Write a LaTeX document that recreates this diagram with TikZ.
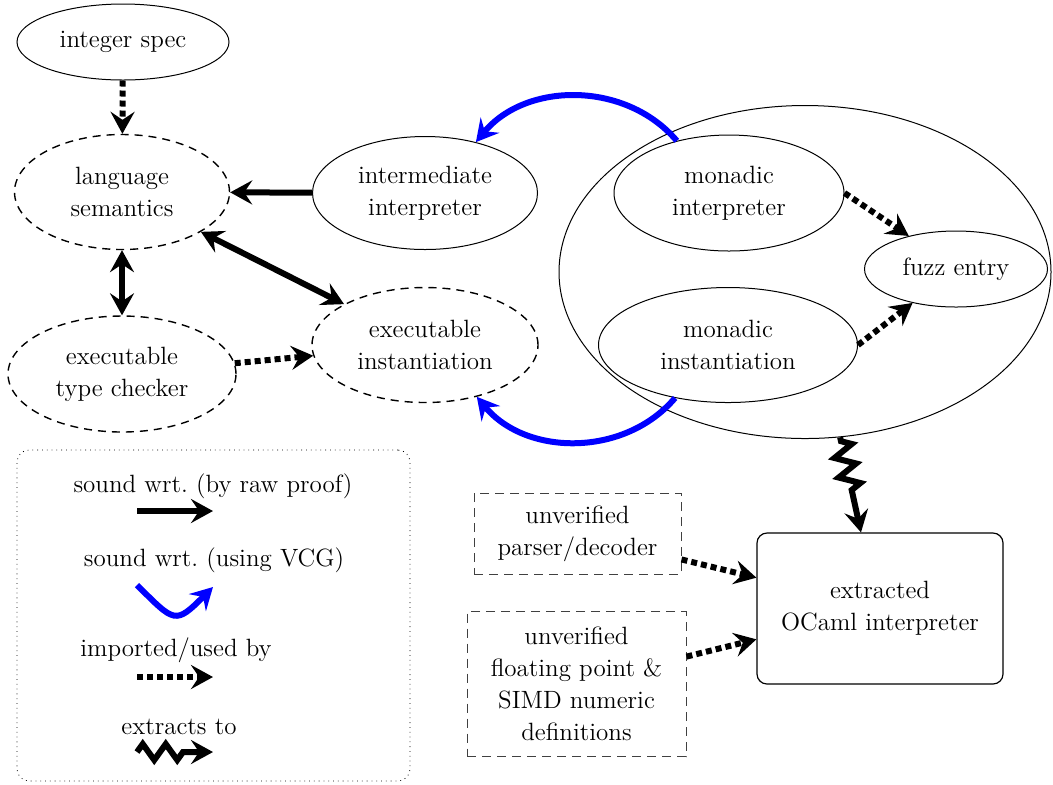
\documentclass[tikz,border=0pt]{standalone}
\usepackage{fontspec}
\usepackage{tikz}
\usetikzlibrary{shapes.geometric,arrows.meta,decorations.pathmorphing}

\begin{document}
\begin{tikzpicture}[x=0.5pt,y=0.5pt,
    font=\fontsize{12.5}{16}\selectfont,
    >={Stealth[length=11pt,width=12pt,inset=4pt]},
    comp/.style={draw,ellipse,align=center,inner sep=0pt,line width=0.5pt},
    exe/.style={comp,line width=0.7pt,dash pattern=on 4pt off 3pt},
    unver/.style={draw=black!75,dash pattern=on 4.5pt off 3pt,align=center,inner sep=0pt,line width=0.5pt},
    rawproof/.style={line width=3pt},
    vcgproof/.style={rawproof,blue},
    usedby/.style={rawproof,dash pattern=on 3pt off 2pt},
    extracts/.style={rawproof,decorate,decoration={zigzag,segment length=10pt,amplitude=5pt,pre length=2pt,post length=17pt}}]
  \useasboundingbox (0,0) rectangle (1053,-784);

  \node[comp,minimum width=106pt,minimum height=38pt] (intspec) at (123,-42) {integer spec};
  \node[exe,minimum width=107.5pt,minimum height=57.5pt] (langsem) at (122,-192) {language\\semantics};
  \node[comp,minimum width=112.5pt,minimum height=56.5pt] (interm) at (425,-193) {intermediate\\interpreter};
  \node[exe,minimum width=114pt,minimum height=58pt] (typechk) at (122,-374) {executable\\type checker};
  \node[exe,minimum width=113pt,minimum height=57.5pt] (execinst) at (425,-345) {executable\\instantiation};

  \node[comp,minimum width=246pt,minimum height=166.5pt] (monad) at (805,-272) {};
  \node[comp,minimum width=115pt,minimum height=58pt] (monint) at (729,-193) {monadic\\interpreter};
  \node[comp,minimum width=129.5pt,minimum height=57.5pt] (moninst) at (728,-345) {monadic\\instantiation};
  \node[comp,minimum width=91.5pt,minimum height=38pt] (fuzz) at (956,-269) {fuzz entry};

  \node[unver,minimum width=103.5pt,minimum height=40.5pt] (parser) at (577.5,-533.5) {unverified\\parser/decoder};
  \node[unver,minimum width=109.5pt,minimum height=72.5pt] (float) at (576.5,-684) {unverified\\floating point \&\\SIMD numeric\\definitions};
  \node[draw,rounded corners=5pt,line width=0.6pt,align=center,inner sep=0pt,
        minimum width=123pt,minimum height=75.5pt] (ocaml) at (880,-608.5) {extracted\\OCaml interpreter};

  \draw[usedby,->] (intspec) -- (langsem);
  \draw[rawproof,->] (interm) -- (langsem);
  \draw[rawproof,<->] (langsem) -- (typechk);
  \draw[rawproof,<->] (langsem) -- (execinst);
  \draw[usedby,->] (typechk) -- (execinst);
  \draw[vcgproof,->] (monint.135) to[bend right=50] (interm.45);
  \draw[vcgproof,->] (moninst.225) to[bend left=50] (execinst.-45);
  \draw[usedby,->] (monint.east) -- (fuzz.145);
  \draw[usedby,->] (moninst.east) -- (fuzz.218);
  \draw[extracts,->] (monad.282) -- ([xshift=-9.5pt]ocaml.north);
  \draw[usedby,->] (parser.-14) -- (ocaml.166);
  \draw[usedby,->] (float.14) -- (ocaml.194);

  % legend
  \node[draw,dotted,rounded corners=6pt,minimum width=196.5pt,minimum height=165.5pt] (legend) at (213.5,-615.5) {};
  \node (lraw) at (213,-486) {sound wrt.\ (by raw proof)};
  \node (lvcg) at (214,-560) {sound wrt.\ (using VCG)};
  \node (lused) at (176,-650) {imported/used by};
  \node (lextr) at (179,-727) {extracts to};
  \coordinate (lraws) at (137,-511);
  \coordinate (lrawe) at (213,-511);
  \coordinate (lvcgs) at (137,-585);
  \coordinate (lvcge) at (213,-587);
  \coordinate (lusedS) at (137,-677);
  \coordinate (lusedE) at (213,-677);
  \coordinate (lextrS) at (137,-752);
  \coordinate (lextrE) at (213,-752);
  \draw[rawproof,->] (lraws) -- (lrawe);
  \draw[vcgproof,->] (lvcgs) to[out=-45,in=-135,looseness=1.8] (lvcge);
  \draw[usedby,->] (lusedS) -- (lusedE);
  \draw[extracts,decoration={segment length=11.5pt,amplitude=4pt,pre length=0pt,post length=15pt},->] (lextrS) -- (lextrE);
\end{tikzpicture}
\end{document}
